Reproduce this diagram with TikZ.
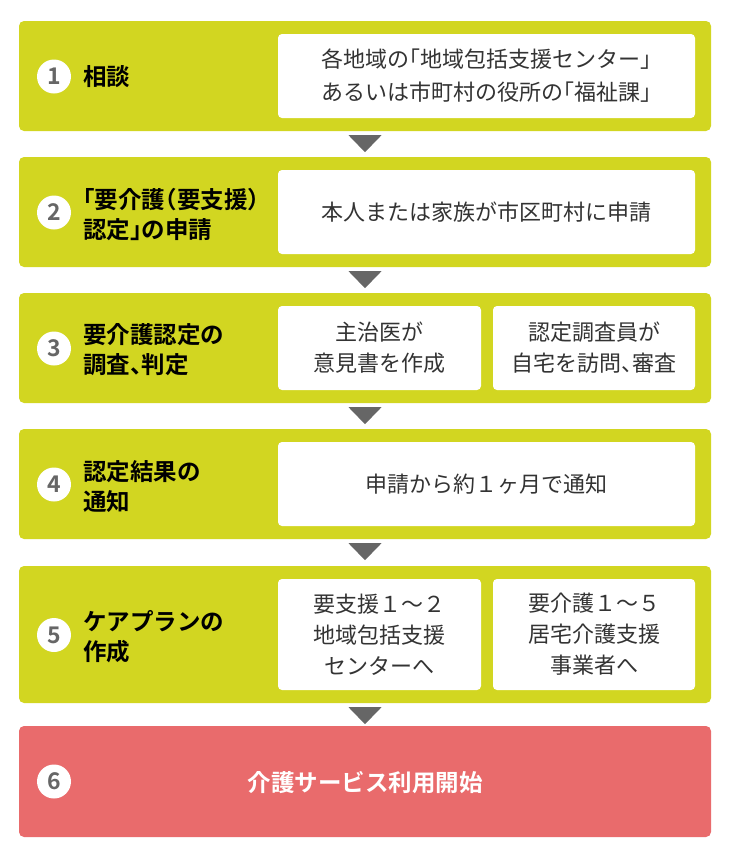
\documentclass[tikz,border=0pt]{standalone}
\usepackage{fontspec}
\setmainfont{Noto Sans CJK JP}
\newfontfamily\jpb{Noto Sans CJK JP Bold}
\usetikzlibrary{calc}
\definecolor{ylw}{HTML}{D2D621}
\definecolor{rd}{HTML}{E96B6C}
\definecolor{gry}{HTML}{666666}
\definecolor{txt}{HTML}{333333}
\newcommand{\hb}[1]{{\addfontfeature{RawFeature=+halt}#1}}
\tikzset{
  stepbg/.style={fill=ylw, rounded corners=5pt, inner sep=0pt, minimum width=692pt},
  lastbg/.style={fill=rd, rounded corners=5pt, inner sep=0pt, minimum width=692pt},
  wbox/.style={fill=white, rounded corners=4pt, inner sep=0pt, text=txt, align=center,
    font={\fontsize{22}{31}\selectfont}},
  numc/.style={circle, fill=white, minimum size=34pt, inner sep=0pt, text=gry,
    font={\jpb\fontsize{23}{23}\selectfont}},
  lbl/.style={anchor=west, align=left, inner sep=0pt, text=black,
    font={\jpb\fontsize{23.5}{30}\selectfont}},
  tri/.style={fill=gry},
}
\begin{document}
\begin{tikzpicture}[x=1pt,y=-1pt]
\useasboundingbox (0,0) rectangle (730,860);
% step boxes
\node[stepbg, minimum height=110pt] (b1) at (365,76) {};
\node[stepbg, minimum height=110pt] (b2) at (365,212) {};
\node[stepbg, minimum height=110pt] (b3) at (365,348) {};
\node[stepbg, minimum height=110pt] (b4) at (365,484) {};
\node[stepbg, minimum height=137pt] (b5) at (365,634.5) {};
\node[lastbg, minimum height=111pt] (b6) at (365,781.5) {};
% numbers
\node[numc] (n1) at (54,76.5) {1};
\node[numc] (n2) at (54,212.5) {2};
\node[numc] (n3) at (54,348.5) {3};
\node[numc] (n4) at (54,484.5) {4};
\node[numc] (n5) at (54,635) {5};
\node[numc] (n6) at (54,781.5) {6};
% labels
\node[lbl] (l1) at (83,77) {相談};
\node[lbl] (l2) at (83,215) {\hb{「}要介護\hb{（}要支援\hb{）}\\認定\hb{」}の申請};
\node[lbl] (l3) at (83,350) {要介護認定の\\調査\hb{、}判定};
\node[lbl] (l4) at (83,487) {認定結果の\\通知};
\node[lbl] (l5) at (83,637) {ケアプランの\\作成};
\node[lbl, anchor=center, text=white] (l6) at (365,783) {介護サービス利用開始};
% white boxes
\node[wbox, minimum width=417pt, minimum height=84pt, font={\fontsize{22}{33}\selectfont}] (w1) at (486.5,76)
  {各地域の\hb{「}地域包括支援センター\hb{」}\\あるいは市町村の役所の\hb{「}福祉課\hb{」}};
\node[wbox, minimum width=417pt, minimum height=84pt] (w2) at (486.5,212)
  {本人または家族が市区町村に申請};
\node[wbox, minimum width=203pt, minimum height=84pt] (w3a) at (379.5,348)
  {主治医が\\意見書を作成};
\node[wbox, minimum width=202pt, minimum height=84pt] (w3b) at (594,348)
  {認定調査員が\\自宅を訪問\hb{、}審査};
\node[wbox, minimum width=417pt, minimum height=84pt] (w4) at (486.5,484)
  {申請から約１ヶ月で通知};
\node[wbox, minimum width=203pt, minimum height=111pt] (w5a) at (379.5,634.5)
  {要支援１～２\\地域包括支援\\センターへ};
\node[wbox, minimum width=202pt, minimum height=111pt] (w5b) at (594,634.5)
  {要介護１～５\\居宅介護支援\\事業者へ};
% arrows
\foreach \a in {b1,b2,b3,b4,b5}{
  \fill[tri] ($(\a.south)+(-16.5,4)$) -- ($(\a.south)+(16.5,4)$) -- ($(\a.south)+(0,21)$) -- cycle;
}
\end{tikzpicture}
\end{document}
